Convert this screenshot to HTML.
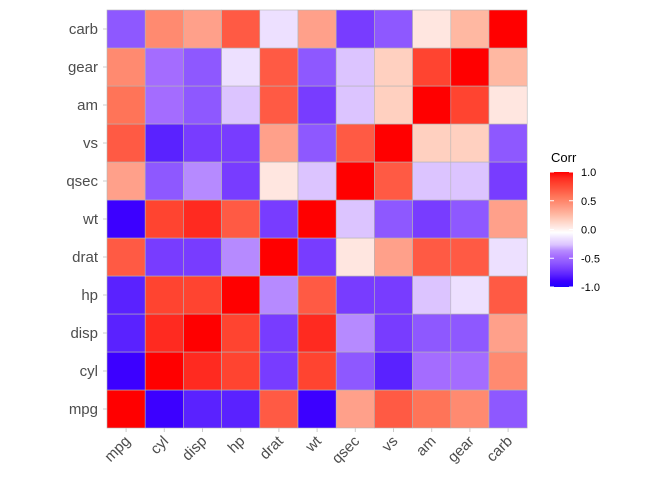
<!DOCTYPE html>
<html><head><meta charset="utf-8"><style>body{margin:0;background:#fff}</style></head>
<body>
<svg id="s" width="672" height="480" xmlns="http://www.w3.org/2000/svg" font-family="Liberation Sans, sans-serif"></svg>
<script>
var names=["mpg","cyl","disp","hp","drat","wt","qsec","vs","am","gear","carb"];
var P={A:"#3c00ff",B:"#5a22ff",C:"#783cff",D:"#8e58ff",E:"#a46cff",F:"#b68aff",G:"#dcc4ff",H:"#ede0ff",W:"#ffffff",
h:"#ffe6e0",g:"#ffd0c0",f:"#ffb8a2",e:"#ffa08a",d:"#ff8a70",c:"#ff7458",b:"#ff5a44",a:"#ff4430",z:"#ff2a20",R:"#ff0000"};
var rows=[
"RABBbAebcdD",
"ARzaCaDBEEd",
"BzRaCzFCDDe",
"BaaRFbCCGHb",
"bCCFRCheblH",
"AazbCRGDCDe",
"eDFChGRbGGC",
"bBCCeDbRggD",
"cEDGbCGgRah",
"dEDHbDGgaRf",
"DdebHeCDhfR"];
rows[4]="bCCFRChebbH";
var s="",x0=107,y1=428,cw=38.2,ch=38.0;
for(var i=0;i<11;i++)for(var j=0;j<11;j++){
 s+='<rect x="'+(x0+j*cw)+'" y="'+(y1-(i+1)*ch)+'" width="'+cw+'" height="'+ch+'" fill="'+P[rows[i][j]]+'" stroke="#b5b5b5" stroke-width="0.6"/>';}
for(var k=0;k<11;k++){
 var cy=y1-(k+0.5)*ch, cx=x0+(k+0.5)*cw;
 s+='<line x1="'+(x0-4)+'" y1="'+cy+'" x2="'+x0+'" y2="'+cy+'" stroke="#ccc"/>';
 s+='<text x="'+(x0-9)+'" y="'+(cy+5)+'" text-anchor="end" font-size="15" fill="#4d4d4d">'+names[k]+'</text>';
 s+='<line x1="'+cx+'" y1="'+y1+'" x2="'+cx+'" y2="'+(y1+4)+'" stroke="#ccc"/>';
 s+='<text transform="translate('+(cx+5)+','+(y1+14)+') rotate(-45)" text-anchor="end" font-size="15" fill="#4d4d4d">'+names[k]+'</text>';}
var gs=["R","z","a","b","c","d","e","f","g","h","W","H","G","F","E","D","C","B","A","#2000ff"];
s+='<defs><linearGradient id="g" x1="0" y1="0" x2="0" y2="1">';
for(var q=0;q<gs.length;q++){var cc=P[gs[q]]||gs[q];s+='<stop offset="'+(q/(gs.length-1))+'" stop-color="'+cc+'"/>';}
s+='</linearGradient></defs>';
s+='<text x="551" y="162" font-size="13" fill="#000">Corr</text>';
s+='<rect x="550" y="172" width="23" height="115" fill="url(#g)"/>';
var labs=["1.0","0.5","0.0","-0.5","-1.0"];
for(var m=0;m<5;m++){var yy=172+m*28.75;
 s+='<line x1="550" y1="'+yy+'" x2="554" y2="'+yy+'" stroke="#fff"/><line x1="569" y1="'+yy+'" x2="573" y2="'+yy+'" stroke="#fff"/>';
 s+='<text x="581" y="'+(yy+4)+'" font-size="11" fill="#000">'+labs[m]+'</text>';}
document.getElementById("s").innerHTML=s;
</script>
</body></html>
